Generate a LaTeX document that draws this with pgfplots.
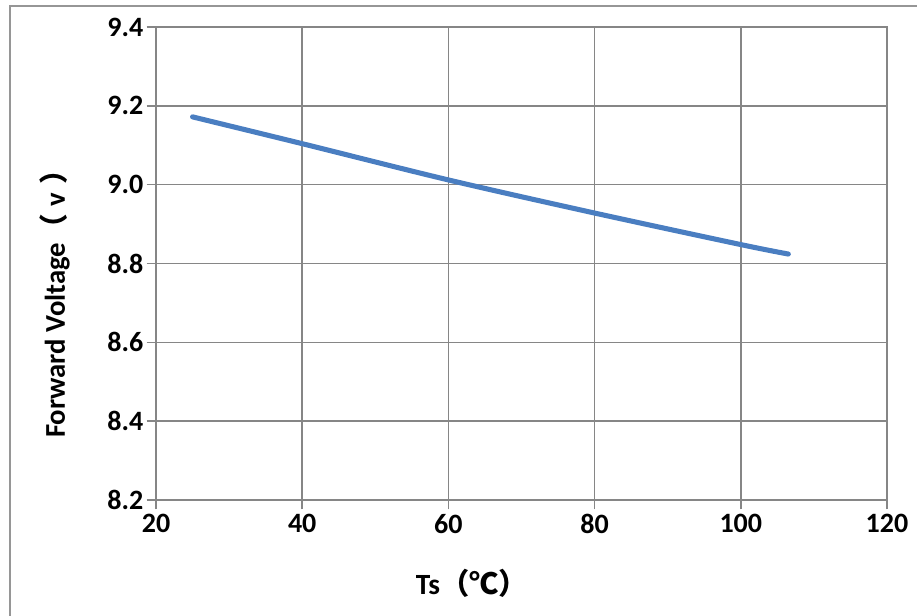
\documentclass[border=0pt]{standalone}
\usepackage{pgfplots}
\pgfplotsset{compat=1.18}
\usepackage{fontspec}
\setmainfont{Carlito}
\newfontfamily\cjk{Noto Sans CJK SC}
\definecolor{gridgray}{RGB}{134,134,134}
\definecolor{framegray}{RGB}{150,150,150}
\definecolor{lineblue}{RGB}{74,126,193}

\begin{document}
\begin{tikzpicture}
\begin{axis}[
    at={(117pt,86.25pt)}, anchor=south west,
    scale only axis,
    width=548.25pt, height=354.75pt,
    xmin=20, xmax=120, ymin=8.2, ymax=9.4,
    xtick={20,40,...,120},
    ytick={8.2,8.4,...,9.4},
    grid=major,
    grid style={gridgray, line width=1.2pt},
    axis line style={gridgray, line width=1.2pt},
    tick style={gridgray, line width=1.2pt},
    tick align=outside,
    major tick length=7pt,
    xtick pos=bottom, ytick pos=left,
    tick label style={font=\fontsize{21}{24}\selectfont\bfseries},
    /pgf/number format/assume math mode=true,
    yticklabel style={xshift=1pt, /pgf/number format/.cd, fixed, fixed zerofill, precision=1},
    clip=false,
]
\addplot[lineblue, line width=3.8pt, line cap=round, line join=round, smooth] coordinates {
  (25,9.172) (40,9.104) (60,9.012) (80,8.928) (100,8.848) (106.5,8.824)
};
\end{axis}
\begin{scope}[x=0.75pt,y=0.75pt]
\node[rotate=90, font=\fontsize{21.5}{24}\selectfont\bfseries] at (55,318)
  {Forward Voltage{\cjk （}\;v\;{\cjk ）}};
\node[font=\fontsize{22}{26}\selectfont\bfseries] at (472,32)
  {Ts{\cjk （℃）}};
\draw[framegray, line width=1.4pt] (10,-30) -- (10,609) -- (950,609);
\pgfresetboundingbox
\useasboundingbox (0,0) rectangle (917,615);
\end{scope}
\end{tikzpicture}
\end{document}
